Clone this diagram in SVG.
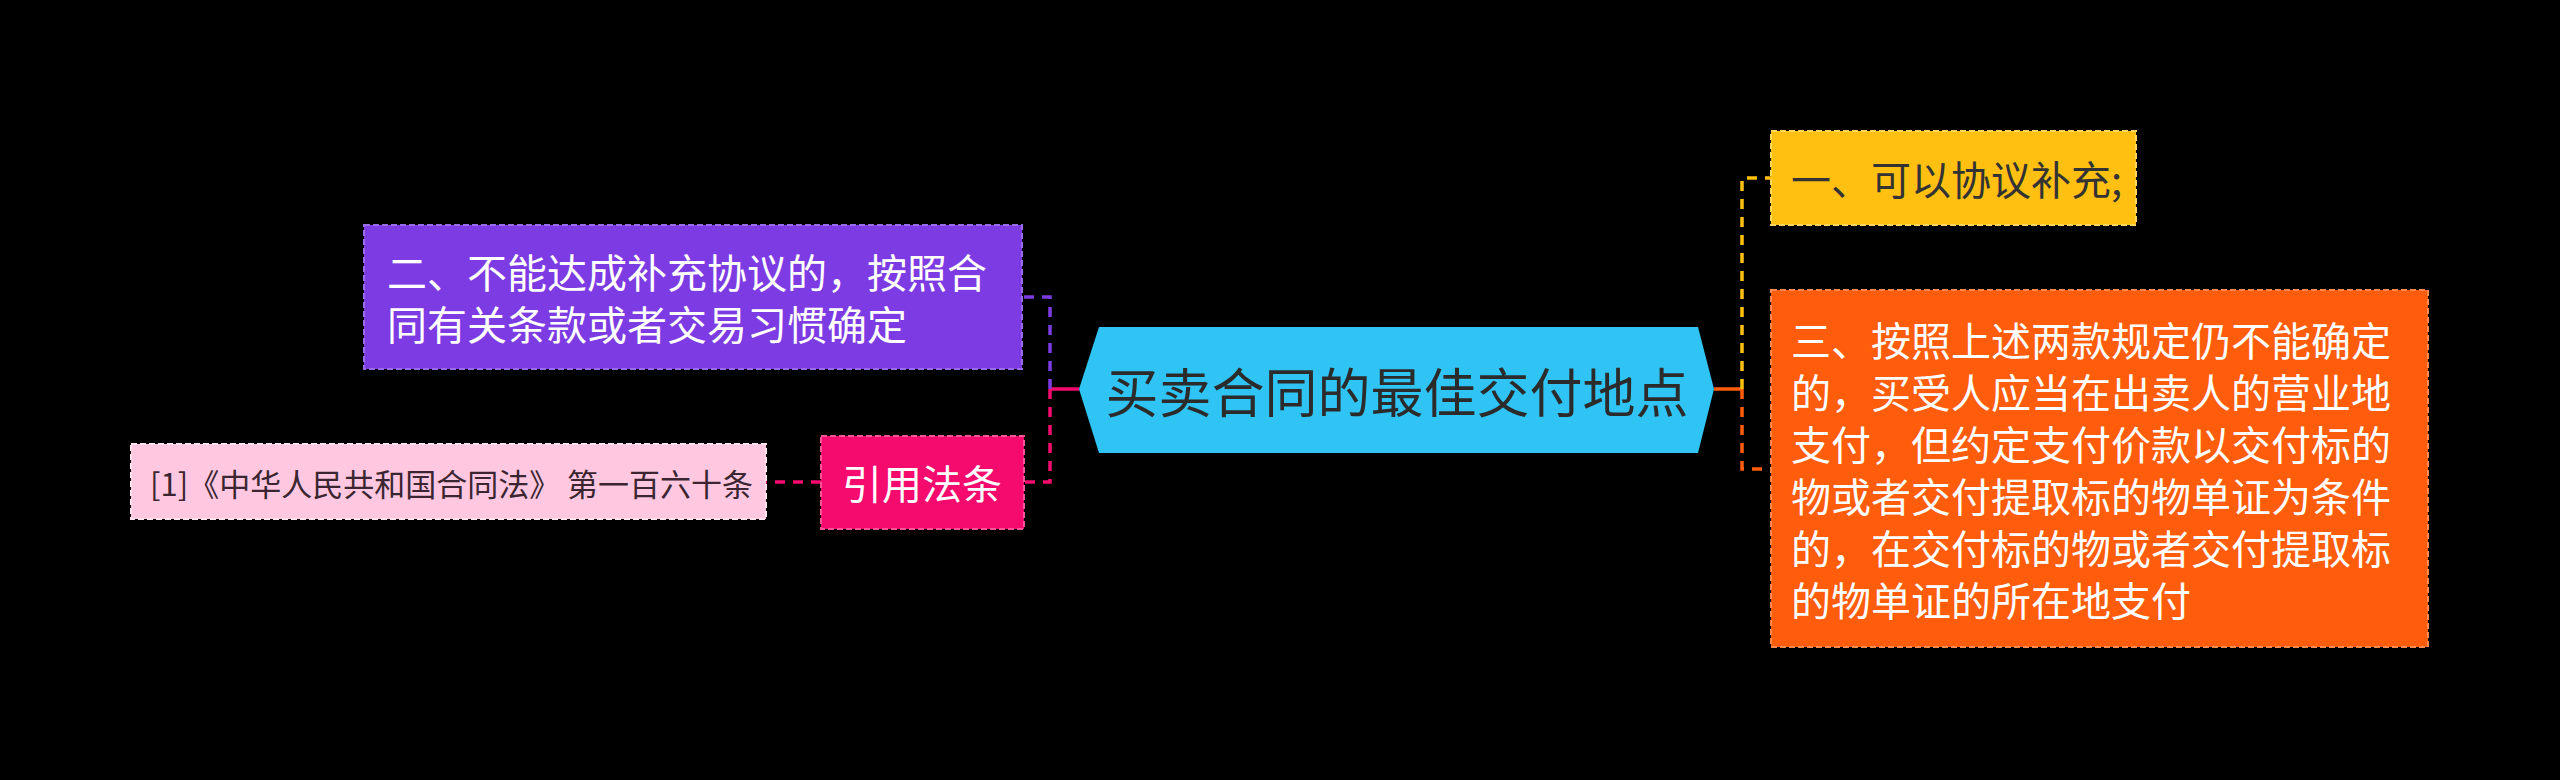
<svg xmlns="http://www.w3.org/2000/svg" width="2560" height="780" viewBox="0 0 2560 780">
<style>
text { font-family: "Noto Sans CJK SC", "Noto Sans", sans-serif; dominant-baseline: central; }
.t40 { font-size: 40px; }
.node { stroke-width: 2; stroke-dasharray: 6 3; }
.conn { fill: none; stroke-width: 3.5; }
.dash { stroke-dasharray: 10 8; }
</style>
<rect x="0" y="0" width="2560" height="780" fill="#000000"/>
<g id="connectors">
  <line class="conn" x1="1050" y1="389" x2="1079" y2="389" stroke="#F50A6E"/>
  <polyline class="conn dash" points="1050,389 1050,297 1022,297" stroke="#7D3BE3"/>
  <polyline class="conn dash" points="1050,389 1050,482 1024,482" stroke="#F50A6E"/>
  <line class="conn dash" x1="821" y1="482" x2="766" y2="482" stroke="#F50A6E"/>
  <line class="conn" x1="1714" y1="389" x2="1742" y2="389" stroke="#FF5C0C"/>
  <polyline class="conn dash" points="1742,389 1742,178 1771,178" stroke="#FFC012"/>
  <polyline class="conn dash" points="1742,389 1742,469 1771,469" stroke="#FF5C0C"/>
</g>
<g id="center">
  <polygon points="1079,389 1099,327 1698,327 1714,389 1698,453 1099,453" fill="#30C4F4"/>
  <text x="1397" y="390" font-size="53" text-anchor="middle" fill="#2b2b2b">买卖合同的最佳交付地点</text>
</g>
<g id="node-purple">
  <rect class="node" x="364" y="225" width="658" height="144" fill="#7D3BE3" stroke="#9A6BEB"/>
  <text class="t40" x="387" y="271" fill="#ffffff">二、不能达成补充协议的，按照合</text>
  <text class="t40" x="387" y="323" fill="#ffffff">同有关条款或者交易习惯确定</text>
</g>
<g id="node-cite">
  <rect class="node" x="821" y="436" width="203" height="93" fill="#F50A6E" stroke="#F8559A"/>
  <text class="t40" x="922" y="482" text-anchor="middle" fill="#ffffff">引用法条</text>
</g>
<g id="node-law">
  <rect class="node" x="131" y="444" width="635" height="75" fill="#FFC8E0" stroke="#FFE3EF"/>
  <text x="150" y="482" font-size="31" fill="#3a2530">[1]《中华人民共和国合同法》 第一百六十条</text>
</g>
<g id="node-yellow">
  <rect class="node" x="1771" y="131" width="365" height="94" fill="#FFC012" stroke="#FFD560"/>
  <text class="t40" x="1791" y="178" fill="#333333">一、可以协议补充;</text>
</g>
<g id="node-orange">
  <rect class="node" x="1771" y="290" width="657" height="357" fill="#FF5C0C" stroke="#FF8A50"/>
  <text class="t40" x="1791" y="339" fill="#ffffff">三、按照上述两款规定仍不能确定</text>
  <text class="t40" x="1791" y="391" fill="#ffffff">的，买受人应当在出卖人的营业地</text>
  <text class="t40" x="1791" y="443" fill="#ffffff">支付，但约定支付价款以交付标的</text>
  <text class="t40" x="1791" y="495" fill="#ffffff">物或者交付提取标的物单证为条件</text>
  <text class="t40" x="1791" y="547" fill="#ffffff">的，在交付标的物或者交付提取标</text>
  <text class="t40" x="1791" y="599" fill="#ffffff">的物单证的所在地支付</text>
</g>
</svg>
